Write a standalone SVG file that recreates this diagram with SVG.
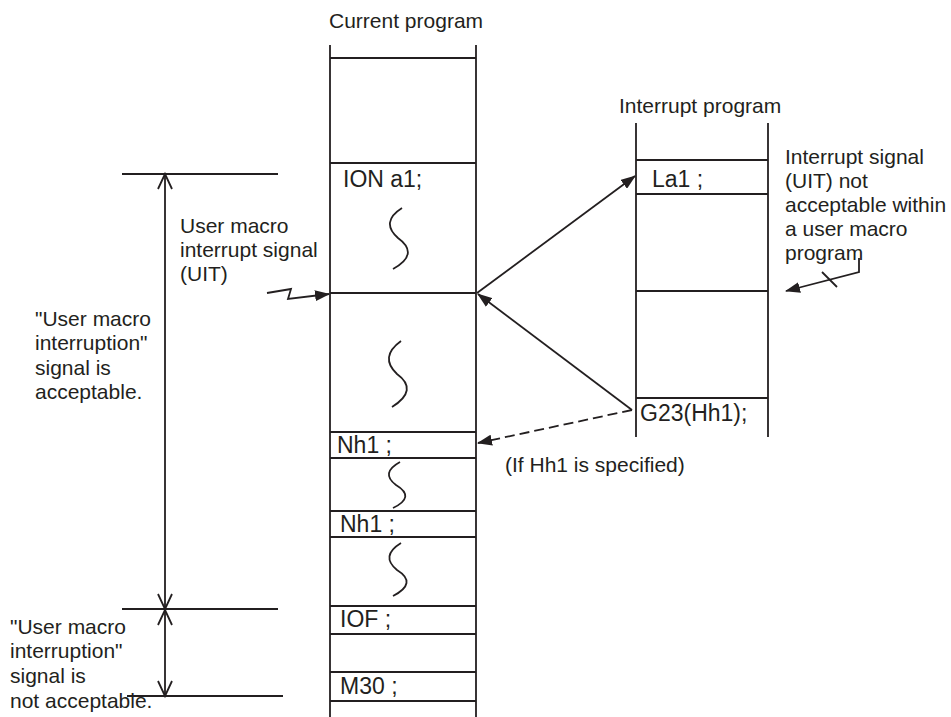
<svg xmlns="http://www.w3.org/2000/svg" width="951" height="717" viewBox="0 0 951 717">
<style>
  .ln { stroke:#231f20; stroke-width:1.8; fill:none; }
  .t { font-family:"Liberation Sans", Arial, sans-serif; font-size:21px; fill:#231f20; }
  .c { font-family:"Liberation Sans", Arial, sans-serif; font-size:23px; fill:#231f20; }
</style>
<defs>
  <marker id="ah" viewBox="0 0 15 11" refX="14" refY="5.5" markerWidth="15" markerHeight="11" markerUnits="userSpaceOnUse" orient="auto">
    <path d="M0,0 L15,5.5 L0,11 z" fill="#231f20"/>
  </marker>
</defs>
<rect width="951" height="717" fill="#ffffff"/>

<g id="current-program">
  <text class="t" x="329" y="28">Current program</text>
  <line class="ln" x1="330" y1="45" x2="330" y2="717"/>
  <line class="ln" x1="476" y1="45" x2="476" y2="717"/>
  <line class="ln" x1="330" y1="58" x2="476" y2="58"/>
  <line class="ln" x1="330" y1="163" x2="476" y2="163"/>
  <line class="ln" x1="330" y1="293" x2="476" y2="293"/>
  <line class="ln" x1="330" y1="432" x2="476" y2="432"/>
  <line class="ln" x1="330" y1="458" x2="476" y2="458"/>
  <line class="ln" x1="330" y1="511" x2="476" y2="511"/>
  <line class="ln" x1="330" y1="537" x2="476" y2="537"/>
  <line class="ln" x1="330" y1="606" x2="476" y2="606"/>
  <line class="ln" x1="330" y1="634" x2="476" y2="634"/>
  <line class="ln" x1="330" y1="672" x2="476" y2="672"/>
  <line class="ln" x1="330" y1="701" x2="476" y2="701"/>
  <text class="c" x="343" y="187">ION a1;</text>
  <text class="c" x="337" y="453">Nh1 ;</text>
  <text class="c" x="340" y="532">Nh1 ;</text>
  <text class="c" x="340" y="627">IOF ;</text>
  <text class="c" x="340" y="694">M30 ;</text>
  <path class="ln" d="M402,208 Q380,222 398,238 Q420,254 393,269"/>
  <path class="ln" d="M401,341 Q379,357 397,374 Q419,390 392,407"/>
  <path class="ln" d="M400,462 Q380,473 396,485 Q416,497 393,508"/>
  <path class="ln" d="M401,543 Q380,556 397,570 Q418,583 393,596"/>
</g>

<g id="interrupt-program">
  <text class="t" x="619" y="113">Interrupt program</text>
  <line class="ln" x1="636" y1="123" x2="636" y2="437"/>
  <line class="ln" x1="768" y1="123" x2="768" y2="437"/>
  <line class="ln" x1="636" y1="160" x2="768" y2="160"/>
  <line class="ln" x1="636" y1="194" x2="768" y2="194"/>
  <line class="ln" x1="636" y1="291" x2="768" y2="291"/>
  <line class="ln" x1="636" y1="398" x2="768" y2="398"/>
  <text class="c" x="652" y="187">La1 ;</text>
  <text class="c" x="640" y="421">G23(Hh1);</text>
</g>

<g id="uit-label">
  <text class="t" x="180" y="233">User macro</text>
  <text class="t" x="180" y="257">interrupt signal</text>
  <text class="t" x="180" y="281">(UIT)</text>
</g>

<g id="not-acceptable-note">
  <text class="t" x="785" y="164">Interrupt signal</text>
  <text class="t" x="785" y="188">(UIT) not</text>
  <text class="t" x="785" y="212">acceptable within</text>
  <text class="t" x="785" y="236">a user macro</text>
  <text class="t" x="785" y="260">program</text>
</g>

<g id="acceptable-range">
  <line class="ln" x1="122" y1="174" x2="278" y2="174"/>
  <line class="ln" x1="165" y1="174" x2="165" y2="609"/>
  <polyline class="ln" points="158,189 165,174 172,189"/>
  <polyline class="ln" points="158,594 165,609 172,594"/>
  <text class="t" x="35" y="326">"User macro</text>
  <text class="t" x="35" y="350">interruption"</text>
  <text class="t" x="35" y="375">signal is</text>
  <text class="t" x="35" y="399">acceptable.</text>
</g>

<g id="not-acceptable-range">
  <line class="ln" x1="122" y1="609" x2="278" y2="609"/>
  <line class="ln" x1="127" y1="696" x2="283" y2="696"/>
  <line class="ln" x1="165" y1="610" x2="165" y2="696"/>
  <polyline class="ln" points="158,625 165,610 172,625"/>
  <polyline class="ln" points="158,681 165,696 172,681"/>
  <text class="t" x="10" y="634">"User macro</text>
  <text class="t" x="10" y="658">interruption"</text>
  <text class="t" x="10" y="683">signal is</text>
  <text class="t" x="10" y="708">not acceptable.</text>
</g>

<g id="hh1-note">
  <text class="t" x="505" y="472">(If Hh1 is specified)</text>
</g>

<g id="connectors">
  <polyline class="ln" points="267,293 291,289 288,299 329,294" marker-end="url(#ah)"/>
  <line class="ln" x1="477" y1="293" x2="635" y2="176" marker-end="url(#ah)"/>
  <line class="ln" x1="632" y1="410" x2="478" y2="294" marker-end="url(#ah)"/>
  <line class="ln" x1="632" y1="410" x2="478" y2="443" stroke-dasharray="10 5" marker-end="url(#ah)"/>
  <polyline class="ln" points="859,258 859,272 786,291" marker-end="url(#ah)"/>
  <line class="ln" x1="822" y1="272" x2="837" y2="287"/>
</g>
</svg>
